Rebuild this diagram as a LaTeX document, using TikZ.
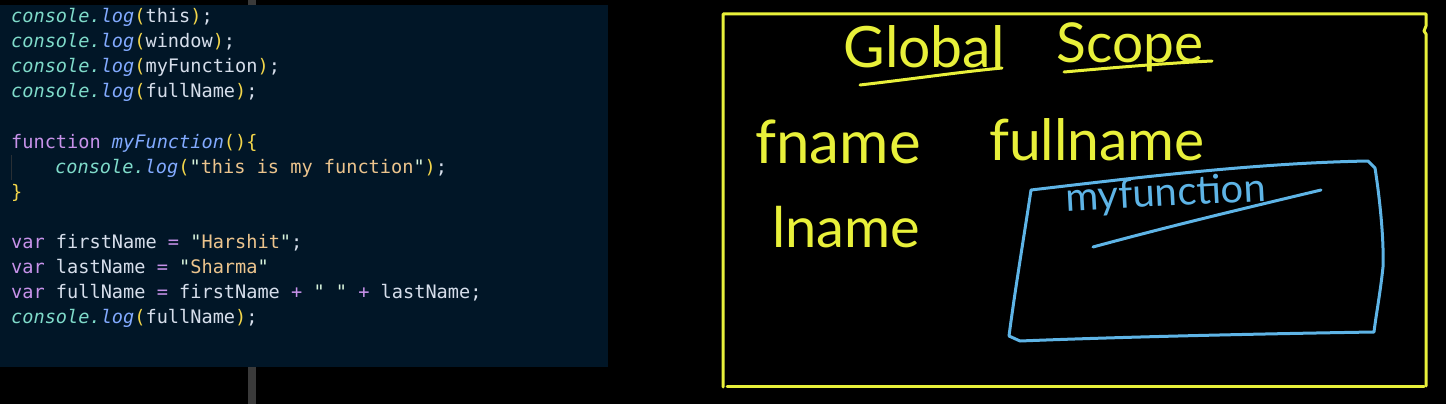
\documentclass[tikz,border=0pt]{standalone}
\usepackage{fontspec}
\setmonofont{DejaVu Sans Mono}
\newfontfamily\handfont{Lato}
\definecolor{panelbg}{HTML}{011627}
\definecolor{plain}{HTML}{D6DEEB}
\definecolor{jsteal}{HTML}{7FDBCA}
\definecolor{jsblue}{HTML}{82AAFF}
\definecolor{jsyel}{HTML}{F2D54A}
\definecolor{jspurp}{HTML}{C792EA}
\definecolor{jstan}{HTML}{ECC48D}
\definecolor{jsquote}{HTML}{D9F5DD}
\definecolor{marker}{HTML}{E8F03A}
\definecolor{bluemark}{HTML}{5EB4E6}
\definecolor{bargray}{HTML}{3A3A3A}
\newcommand\jsC[1]{\textcolor{jsteal}{\itshape #1}}
\newcommand\jsL[1]{\textcolor{jsblue}{\itshape #1}}
\newcommand\jsB[1]{\textcolor{jsyel}{#1}}
\newcommand\jsK[1]{\textcolor{jspurp}{#1}}
\newcommand\jsF[1]{\textcolor{jsblue}{\itshape #1}}
\newcommand\jsS[1]{\textcolor{jsquote}{"}\textcolor{jstan}{#1}\textcolor{jsquote}{"}}
\tikzset{
  codeline/.style={anchor=base west, inner sep=0pt, text=plain,
    font=\ttfamily\fontsize{18.6}{25}\selectfont},
  hand/.style={inner sep=0pt, text=marker,
    font=\handfont\fontsize{#1}{#1}\selectfont},
  bluehand/.style={inner sep=0pt, text=bluemark,
    font=\handfont\fontsize{#1}{#1}\selectfont},
  yelstroke/.style={draw=marker, line width=3pt, line cap=round, line join=round},
  bluestroke/.style={draw=bluemark, line width=3pt, line cap=round, line join=round}
}
\begin{document}
\begin{tikzpicture}[x=1pt,y=-1pt]
\useasboundingbox (0,0) rectangle (1446,404);
\fill[black] (0,0) rectangle (1446,404);
% editor panel
\fill[panelbg] (0,5) rectangle (608,367);
\fill[bargray] (248,0) rectangle (256,5);
\fill[bargray] (248,367) rectangle (256,404);
\draw[draw=bargray!70!panelbg, line width=1pt] (11,155) -- (11,180);
% code
\node[codeline] (l1) at (11,23) {\jsC{console.}\jsL{log}\jsB{(}this\jsB{)};};
\node[codeline] (l2) at (11,48) {\jsC{console.}\jsL{log}\jsB{(}window\jsB{)};};
\node[codeline] (l3) at (11,73) {\jsC{console.}\jsL{log}\jsB{(}myFunction\jsB{)};};
\node[codeline] (l4) at (11,98) {\jsC{console.}\jsL{log}\jsB{(}fullName\jsB{)};};
\node[codeline] (l5) at (11,148) {\jsK{function} \jsF{myFunction}\jsB{()\{}};
\node[codeline] (l6) at (55,173) {\jsC{console.}\jsL{log}\jsB{(}\jsS{this is my function}\jsB{)};};
\node[codeline] (l7) at (11,198) {\jsB{\}}};
\node[codeline] (l8) at (11,248) {\jsK{var} firstName \jsK{=} \jsS{Harshit};};
\node[codeline] (l9) at (11,273) {\jsK{var} lastName \jsK{=} \jsS{Sharma}};
\node[codeline] (l10) at (11,298) {\jsK{var} fullName \jsK{=} firstName \jsK{+} \jsS{\ } \jsK{+} lastName;};
\node[codeline] (l11) at (11,323) {\jsC{console.}\jsL{log}\jsB{(}fullName\jsB{)};};
% whiteboard frame
\draw[yelstroke] (723,387) -- (723,14) -- (1426,14) -- (1426,26) -- (1424,31) -- (1426,34) -- (1426,386);
\draw[yelstroke] (727,386) -- (1424,386);
% title
\node[hand=57] (glob) at (924,47) {Global};
\node[hand=55] (scope) at (1130,47) {Scope};
\draw[yelstroke] (860,85) .. controls (920,78) and (960,72) .. (1002,68);
\draw[yelstroke] (1064,72) .. controls (1120,67) and (1170,63) .. (1212,61);
% variables
\node[hand=60] (fname) at (838,142) {fname};
\node[hand=57] (fullname) at (1097,140) {fullname};
\node[hand=56] (lname) at (846,227) {lname};
% function box
\draw[bluestroke] (1031,190) .. controls (1150,176) and (1260,163) .. (1368,161)
  -- (1375,168) .. controls (1380,200) and (1384,240) .. (1383,267)
  .. controls (1380,295) and (1376,315) .. (1374,332)
  .. controls (1250,334) and (1120,337) .. (1020,341)
  -- (1009,336) .. controls (1015,290) and (1025,230) .. (1031,190);
\node[bluehand=40, rotate=3] (myfn) at (1166,195) {myfunction};
\draw[bluestroke] (1093,247) .. controls (1170,226) and (1250,207) .. (1321,190);
\end{tikzpicture}
\end{document}
